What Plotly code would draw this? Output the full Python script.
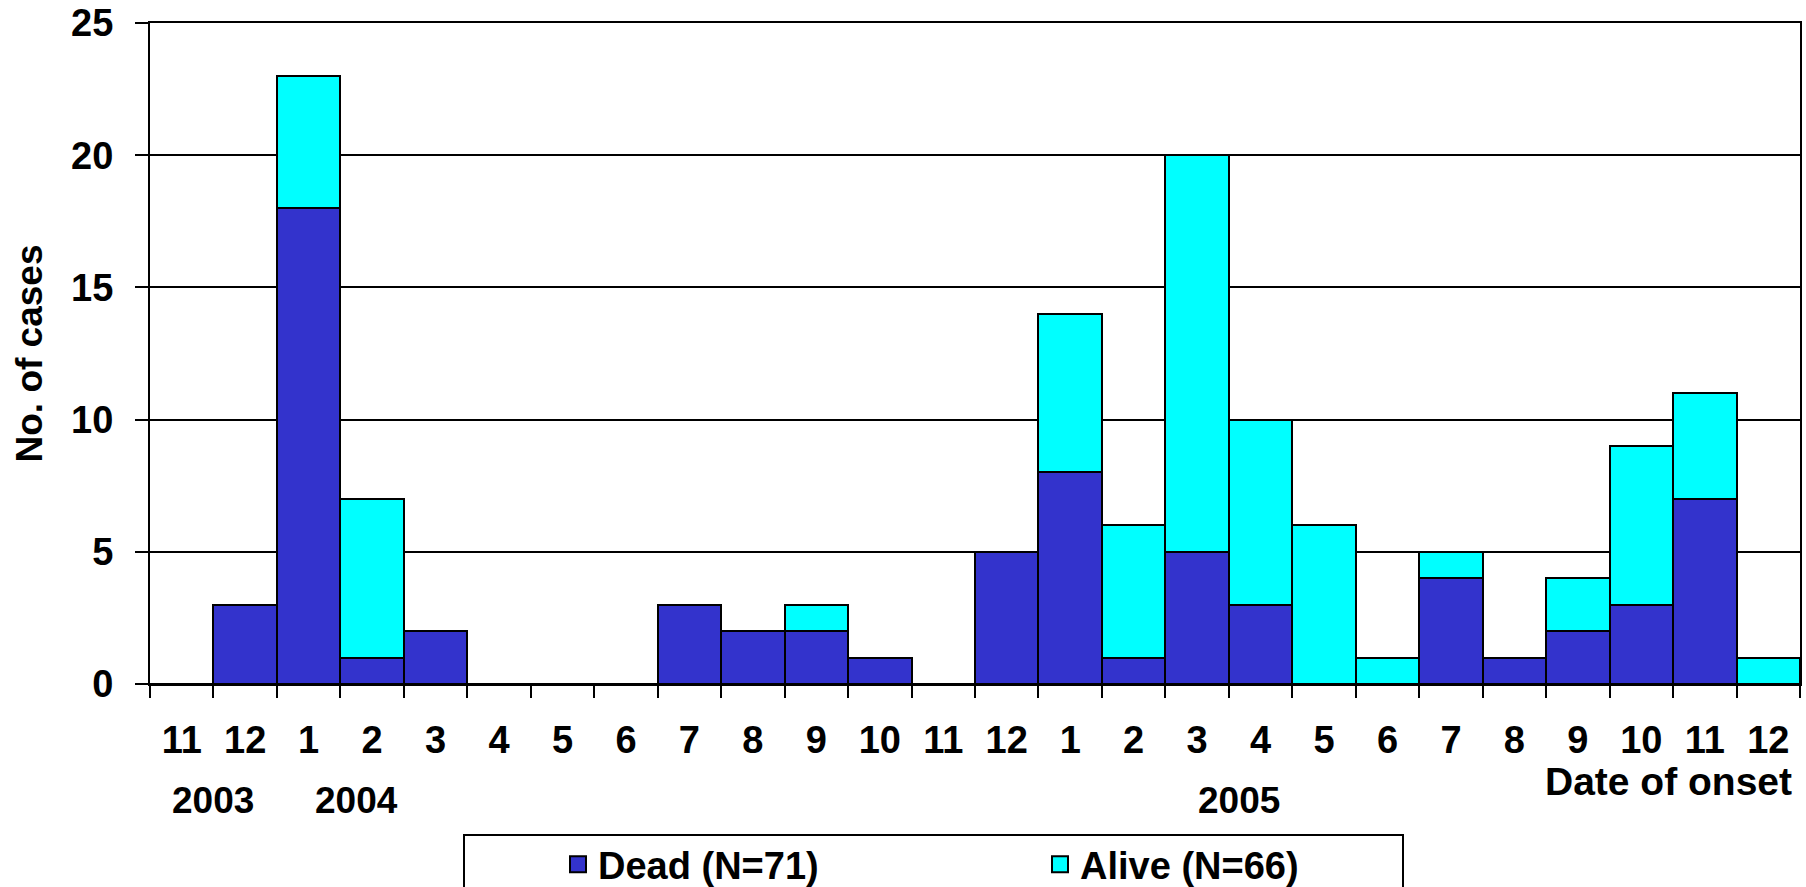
import plotly.graph_objects as go

# ---- data ----
month_labels = ["11", "12", "1", "2", "3", "4", "5", "6", "7", "8", "9", "10", "11", "12",
                "1", "2", "3", "4", "5", "6", "7", "8", "9", "10", "11", "12"]
dead = [0, 3, 18, 1, 2, 0, 0, 0, 3, 2, 2, 1, 0, 5,
        8, 1, 5, 3, 0, 0, 4, 1, 2, 3, 7, 0]
alive = [0, 0, 5, 6, 0, 0, 0, 0, 0, 0, 1, 0, 0, 0,
         6, 5, 15, 7, 6, 1, 1, 0, 2, 6, 4, 1]
series_names = ["Dead (N=71)", "Alive (N=66)"]
series_colors = ["#3333CC", "#00FFFF"]
year_labels = ["2003", "2004", "2005"]
y_ticks = [0, 5, 10, 15, 20, 25]

x = list(range(len(month_labels)))

# ---- layout geometry (screen pixels; page margin removed below) ----
W, H = 1806, 887
SX0, SX1, SY0, SY1 = 150, 1800, 23, 684      # plot area
L, T = SX0, SY0
R, B = W - SX1, H - SY1
pw, ph = W - L - R, H - T - B


def px_x(s):
    return (s - L) / pw


def px_y(s):
    return (H - B - s) / ph


FONT = "Liberation Sans, Arial, sans-serif"

fig = go.Figure()
for vals, name, col in zip([dead, alive], series_names, series_colors):
    fig.add_trace(go.Bar(x=x, y=vals, name=name, legendgroup=name, showlegend=False,
                         marker=dict(color=col, line=dict(color="black", width=2))))
# legend entries (square swatches)
for name, col in zip(series_names, series_colors):
    fig.add_trace(go.Scatter(x=[None], y=[None], mode="markers", name=name, legendgroup=name,
                             marker=dict(symbol="square", size=16, color=col,
                                         line=dict(color="black", width=2))))

fig.update_layout(
    width=W, height=H,
    margin=dict(l=L, r=R, t=T, b=B, autoexpand=False),
    barmode="stack", bargap=0,
    paper_bgcolor="white", plot_bgcolor="white",
    font=dict(family=FONT, size=36, color="black", weight="bold"),
    showlegend=True,
    legend=dict(orientation="h", x=px_x(558), xanchor="left",
                y=px_y(833), yanchor="top",
                font=dict(size=38, family=FONT, weight="bold"),
                itemsizing="trace",
                entrywidth=437, entrywidthmode="pixels",
                bgcolor="rgba(0,0,0,0)", borderwidth=0,
                traceorder="normal"),
)

fig.update_xaxes(
    range=[-0.5, len(month_labels) - 0.5],
    tickmode="array", tickvals=x, ticktext=month_labels,
    ticks="", ticklen=0,
    tickfont=dict(size=38, family=FONT, weight="bold"),
    ticklabelstandoff=21,
    showline=True, linecolor="black", linewidth=2, mirror=True,
    showgrid=False, zeroline=False,
    minor=dict(tickmode="array", tickvals=[i - 0.5 for i in range(len(month_labels) + 1)],
               ticks="outside", ticklen=12, tickwidth=2, tickcolor="black", showgrid=False),
    fixedrange=True,
)

fig.update_yaxes(
    range=[0, 25],
    tickmode="array", tickvals=y_ticks,
    ticks="outside", ticklen=13, tickwidth=2, tickcolor="black",
    tickfont=dict(size=38, family=FONT, weight="bold"),
    ticklabelstandoff=14, ticklabeloverflow="allow",
    showline=True, linecolor="black", linewidth=2, mirror=True,
    showgrid=True, gridcolor="black", gridwidth=2,
    zeroline=False,
    title=dict(text="No. of cases", font=dict(size=37, family=FONT, weight="bold"), standoff=17),
    automargin=False,
    fixedrange=True,
)

# year labels
for txt, cx in zip(year_labels, [213, 356, 1239]):
    fig.add_annotation(text=txt, x=px_x(cx), y=px_y(800), xref="paper", yref="paper",
                       xanchor="center", yanchor="middle", showarrow=False,
                       font=dict(size=37, family=FONT, weight="bold"))

fig.add_annotation(text="Date of onset", x=px_x(1794), y=px_y(781), xref="paper", yref="paper",
                   xanchor="right", yanchor="middle", showarrow=False,
                   font=dict(size=39, family=FONT, weight="bold"))

# legend frame
fig.add_shape(type="rect", xref="paper", yref="paper",
              x0=px_x(464), x1=px_x(1403), y0=px_y(835), y1=px_y(905),
              line=dict(color="black", width=2), fillcolor="rgba(0,0,0,0)", layer="above")

fig.write_html("out.html", config={"displayModeBar": False},
               post_script="document.body.style.margin='0px';")
